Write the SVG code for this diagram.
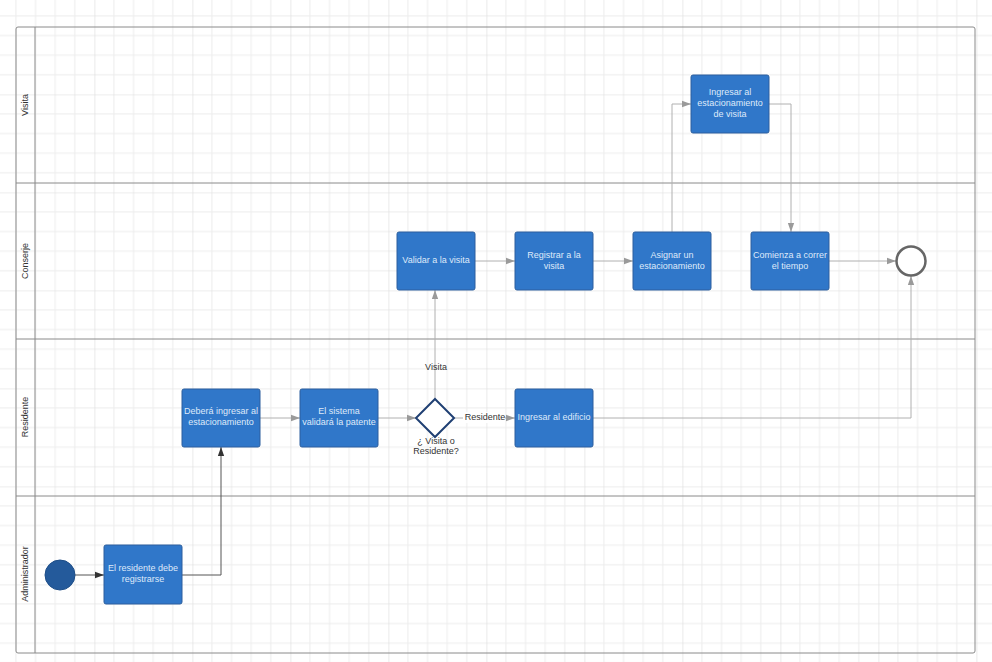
<svg xmlns="http://www.w3.org/2000/svg" width="992" height="662" viewBox="0 0 992 662">
<defs>
<pattern id="grid" x="-3.6" y="-3.6" width="98" height="98" patternUnits="userSpaceOnUse">
<path d="M19.6 0V98M39.2 0V98M58.8 0V98M78.4 0V98M0 19.6H98M0 39.2H98M0 58.8H98M0 78.4H98" stroke="#ececec" stroke-width="1" fill="none"/>
<path d="M0 0V98M0 0H98" stroke="#dcdcdc" stroke-width="1.2" fill="none"/>
</pattern>
<marker id="ag" viewBox="0 0 10 10" refX="10" refY="5" markerWidth="9" markerHeight="9" markerUnits="userSpaceOnUse" orient="auto">
<path d="M0 1.5L10 5L0 8.5z" fill="#9a9a9a"/>
</marker>
<marker id="ad" viewBox="0 0 10 10" refX="10" refY="5" markerWidth="9" markerHeight="9" markerUnits="userSpaceOnUse" orient="auto">
<path d="M0 1.5L10 5L0 8.5z" fill="#333"/>
</marker>
</defs>
<style>
.lane{fill:none;stroke:#8a8a8a;stroke-width:1}
.lbl{font-family:"Liberation Sans",Arial,sans-serif;font-size:9px;fill:#333;text-anchor:middle}
.box rect{fill:#3077c9;stroke:#2c5f9e;stroke-width:1}
.box text{font-family:"Liberation Sans",Arial,sans-serif;font-size:9px;fill:#dfeafa;text-anchor:middle}
.c{fill:none;stroke:#b0b0b0;stroke-width:1;marker-end:url(#ag)}
.cd{fill:none;stroke:#555;stroke-width:1;marker-end:url(#ad)}
.cl{font-family:"Liberation Sans",Arial,sans-serif;font-size:9px;fill:#333;text-anchor:middle}
</style>
<rect width="992" height="662" fill="#fff"/>
<rect width="992" height="662" fill="url(#grid)"/>

<g id="pool">
<rect x="16" y="27" width="959" height="626" rx="2" class="lane"/>
<line x1="35" y1="27" x2="35" y2="653" class="lane"/>
<line x1="16" y1="183" x2="975" y2="183" class="lane"/>
<line x1="16" y1="339" x2="975" y2="339" class="lane"/>
<line x1="16" y1="496" x2="975" y2="496" class="lane"/>
<text class="lbl" transform="translate(28 105) rotate(-90)">Visita</text>
<text class="lbl" transform="translate(28 261) rotate(-90)">Conserje</text>
<text class="lbl" transform="translate(28 417) rotate(-90)">Residente</text>
<text class="lbl" transform="translate(28 574) rotate(-90)">Administrador</text>
</g>

<g id="connectors">
<path class="cd" d="M75 575H104"/>
<path class="cd" d="M182 575H221V447"/>
<path class="c" d="M260 418H300"/>
<path class="c" d="M378 418H416"/>
<path class="c" d="M454 418H515"/>
<path class="c" d="M435 399V290"/>
<path class="c" d="M475 261H515"/>
<path class="c" d="M593 261H633"/>
<path class="c" d="M672 232V104H691"/>
<path class="c" d="M769 104H791V232"/>
<path class="c" d="M829 261H896"/>
<path class="c" d="M593 418H911V276"/>
<rect x="463" y="412" width="42" height="11" fill="#fff"/>
<text class="cl" x="485" y="420">Residente</text>
<text class="cl" x="436" y="370">Visita</text>
</g>

<g id="start"><circle cx="60" cy="575" r="15" fill="#245a9b" stroke="#1e4e88" stroke-width="1"/></g>
<g id="end"><circle cx="911" cy="261" r="14.5" fill="#fff" stroke="#666" stroke-width="2.5"/></g>

<g id="n1" class="box"><rect x="104" y="545" width="78" height="59" rx="2"/><text x="143" y="571">El residente debe</text><text x="143" y="582">registrarse</text></g>
<g id="n2" class="box"><rect x="182" y="389" width="78" height="58" rx="2"/><text x="221" y="414">Deberá ingresar al</text><text x="221" y="425">estacionamiento</text></g>
<g id="n3" class="box"><rect x="300" y="389" width="78" height="58" rx="2"/><text x="339" y="414">El sistema</text><text x="339" y="425">validará la patente</text></g>
<g id="gw">
<path d="M435 399L454 418L435 437L416 418Z" fill="#fff" stroke="#1f3f73" stroke-width="2"/>
<text class="cl" x="436" y="444" fill="#444">¿ Visita o</text>
<text class="cl" x="436" y="454" fill="#444">Residente?</text>
</g>
<g id="n4" class="box"><rect x="515" y="389" width="78" height="58" rx="2"/><text x="554" y="420">Ingresar al edificio</text></g>
<g id="n5" class="box"><rect x="397" y="232" width="78" height="58" rx="2"/><text x="436" y="263">Validar a la visita</text></g>
<g id="n6" class="box"><rect x="515" y="232" width="78" height="58" rx="2"/><text x="554" y="258">Registrar a la</text><text x="554" y="269">visita</text></g>
<g id="n7" class="box"><rect x="633" y="232" width="78" height="58" rx="2"/><text x="672" y="258">Asignar un</text><text x="672" y="269">estacionamiento</text></g>
<g id="n8" class="box"><rect x="691" y="75" width="78" height="58" rx="2"/><text x="730" y="95">Ingresar al</text><text x="730" y="106">estacionamiento</text><text x="730" y="117">de visita</text></g>
<g id="n9" class="box"><rect x="751" y="232" width="78" height="58" rx="2"/><text x="790" y="258">Comienza a correr</text><text x="790" y="269">el tiempo</text></g>
</svg>
